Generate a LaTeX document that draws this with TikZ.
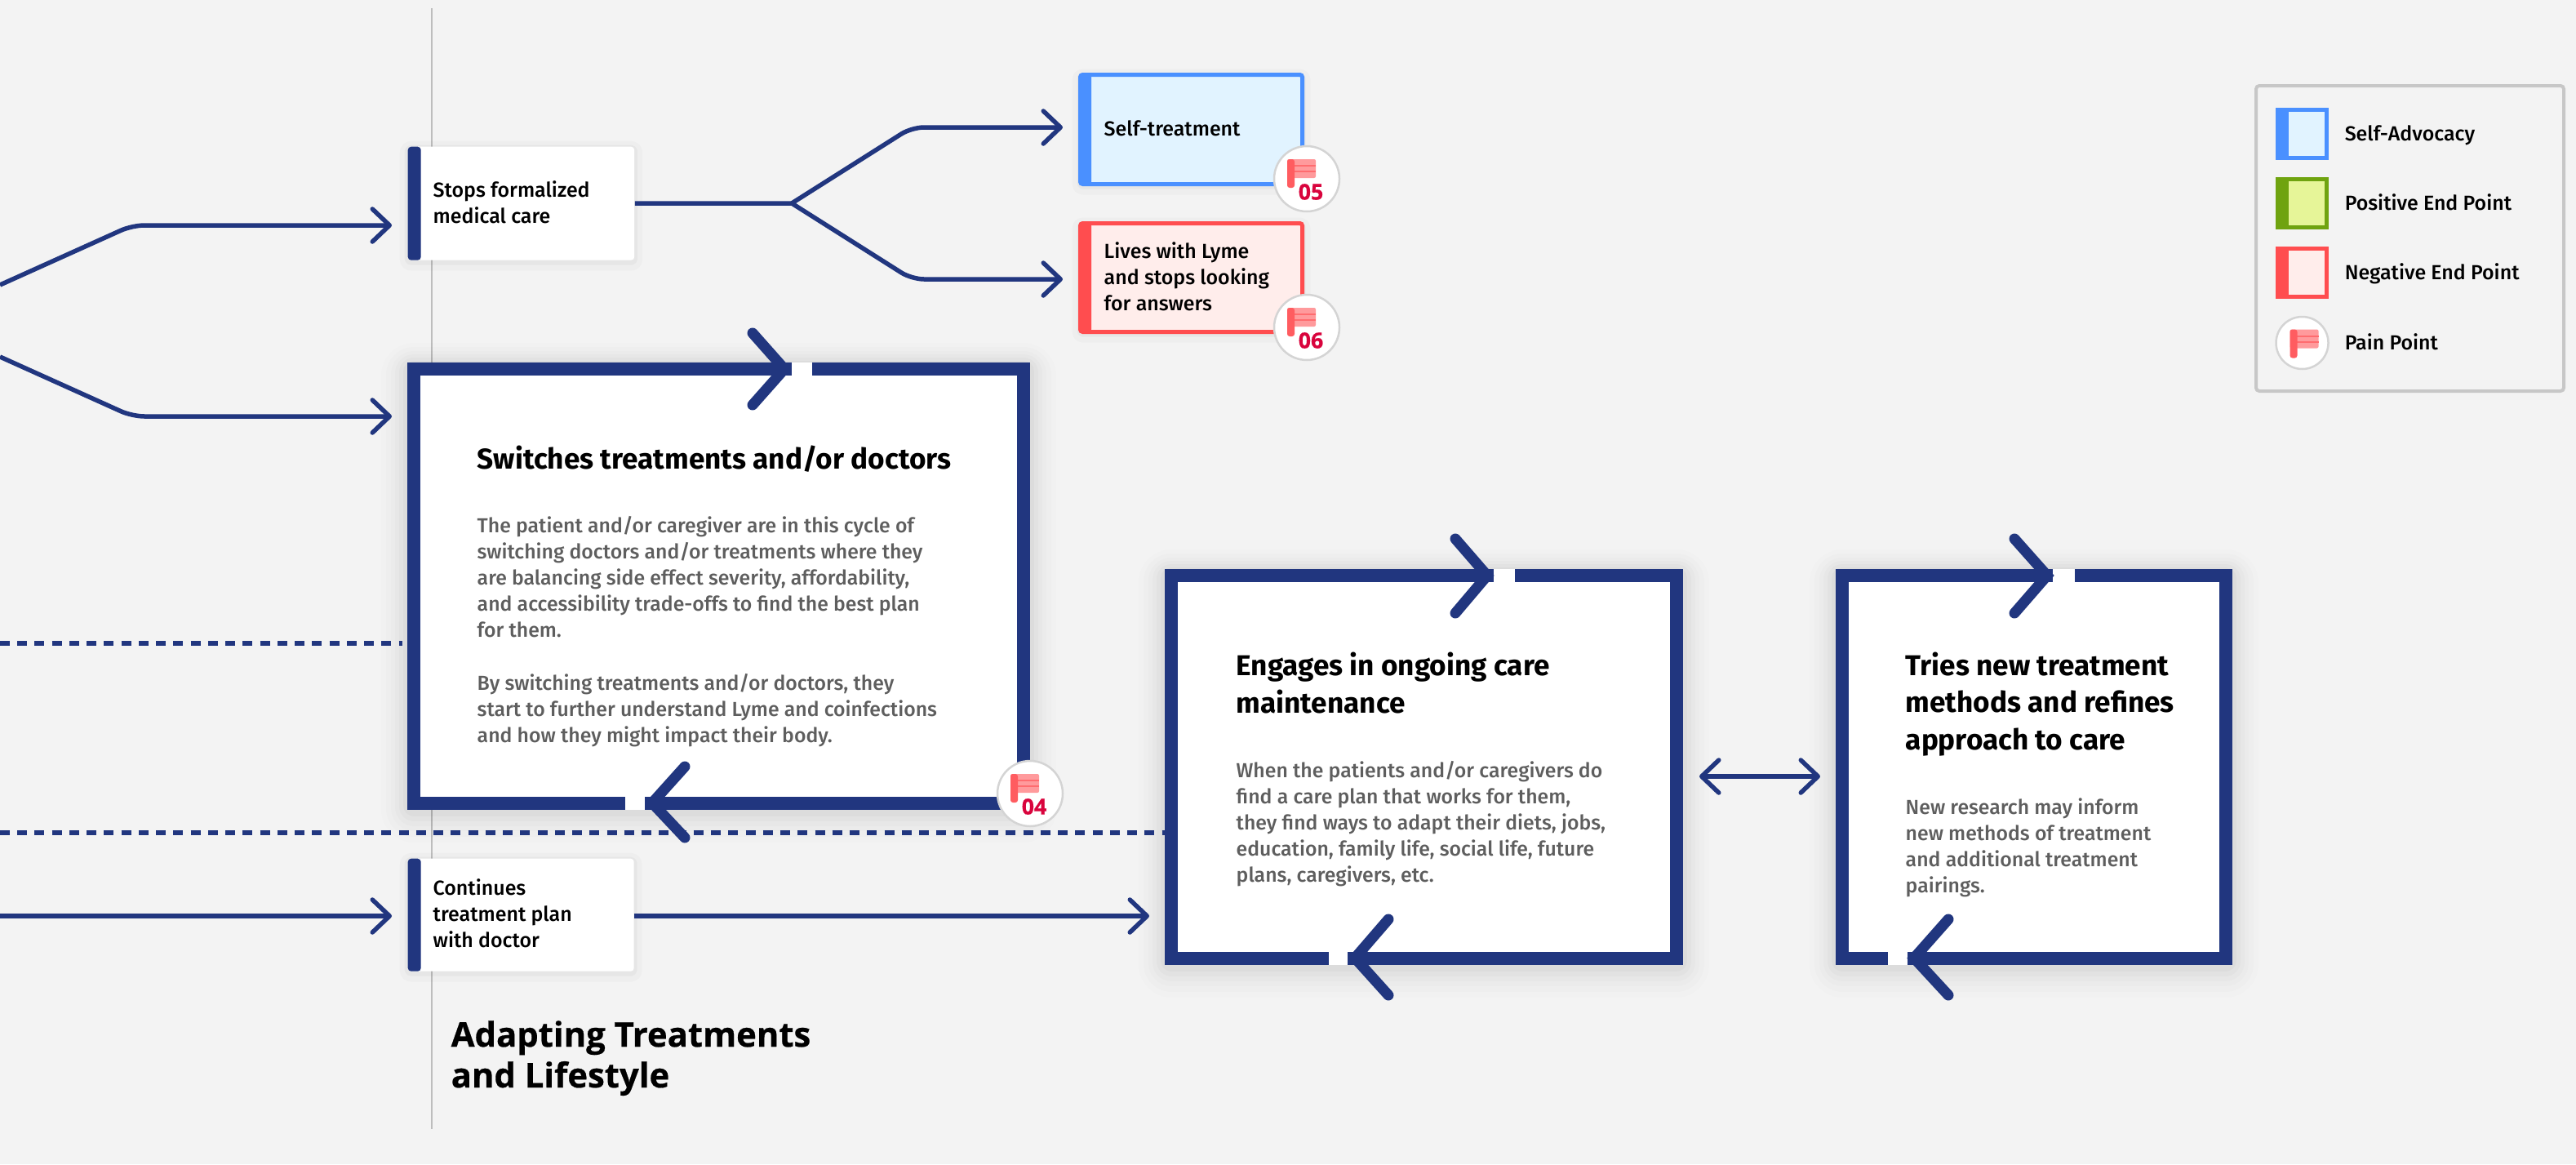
\documentclass[tikz,border=0pt]{standalone}
\usepackage{fontspec}
\setmainfont{Fira Sans}
\newfontfamily\labelfont{Fira Sans Medium}
\newfontfamily\titlefont[BoldFeatures={FakeBold=0.5}]{Open Sans}
\usetikzlibrary{arrows.meta,calc}

\definecolor{paper}{HTML}{F3F3F3}
\definecolor{navy}{HTML}{21367F}
\definecolor{spine}{HTML}{BDBDBD}
\definecolor{bodygrey}{HTML}{5E5E5E}
\definecolor{selfblue}{HTML}{4A90FF}
\definecolor{selflight}{HTML}{E1F3FF}
\definecolor{posgreen}{HTML}{6FA30F}
\definecolor{poslight}{HTML}{E6F598}
\definecolor{negred}{HTML}{FF4D4F}
\definecolor{neglight}{HTML}{FFEDEB}
\definecolor{flagdark}{HTML}{FF5C60}
\definecolor{flaglight}{HTML}{FF9A9C}
\definecolor{painred}{HTML}{D9043D}

\tikzset{
  softshadow/.style={
    preaction={draw=black,draw opacity=.007,line width=#1+.64cm,line join=round,transform canvas={yshift=-.08cm}},
    preaction={draw=black,draw opacity=.010,line width=#1+.52cm,line join=round,transform canvas={yshift=-.07cm}},
    preaction={draw=black,draw opacity=.012,line width=#1+.40cm,line join=round,transform canvas={yshift=-.06cm}},
    preaction={draw=black,draw opacity=.015,line width=#1+.30cm,line join=round,transform canvas={yshift=-.05cm}},
    preaction={draw=black,draw opacity=.018,line width=#1+.20cm,line join=round,transform canvas={yshift=-.04cm}},
    preaction={draw=black,draw opacity=.022,line width=#1+.10cm,line join=round,transform canvas={yshift=-.03cm}}},
  smallshadow/.style={
    preaction={draw=black,draw opacity=.018,line width=.20cm,line join=round,transform canvas={yshift=-.03cm}},
    preaction={draw=black,draw opacity=.030,line width=.08cm,line join=round,transform canvas={yshift=-.02cm}}},
  leftbar/.style 2 args={path picture={\fill[#1] (path picture bounding box.north west) rectangle
    ([xshift=#2]path picture bounding box.south west);}},
  stepbox/.style={anchor=north west, fill=white, rounded corners=.04cm, smallshadow, leftbar={navy}{.16cm}},
  endbox/.style 2 args={anchor=north west, draw=#1, fill=#2, line width=.05cm, rounded corners=.03cm,
    smallshadow, leftbar={#1}{.135cm}},
  swatch/.style 2 args={anchor=north west, draw=#1, fill=#2, line width=.05cm,
    minimum width=.60cm, minimum height=.59cm, leftbar={#1}{.135cm}},
  cardbox/.style={anchor=north west, draw=navy, fill=white, line width=.16cm, softshadow=.16cm},
  cardtitle/.style={anchor=base west, inner sep=0pt, align=left, font=\fontsize{10pt}{12.85pt}\bfseries\selectfont},
  cardtext/.style={anchor=base west, inner sep=0pt, align=left, text=bodygrey, font=\labelfont\fontsize{7.06pt}{9.1pt}\selectfont},
  boxtext/.style={anchor=base west, inner sep=0pt, align=left, text=black, font=\labelfont\fontsize{7.1pt}{9.1pt}\selectfont},
  bigtitle/.style={anchor=base west, inner sep=0pt, align=left, font=\titlefont\bfseries\fontsize{11.9pt}{14.2pt}\selectfont},
  flowarrow/.style={draw=navy, line width=.055cm, rounded corners=.15cm, shorten >=.19cm,
    -{Straight Barb[length=.21cm,width=.4cm,round]}},
  dashline/.style={draw=navy, line width=.06cm, dash pattern=on .12cm off .0925cm},
  cyclebarb/.style={draw=navy, line width=.13cm, line cap=round, line join=miter},
  painbadge/.style={circle, draw=black!17, fill=white, line width=.025cm, inner sep=0pt},
  painnum/.style={inner sep=0pt, text=painred, font=\titlefont\bfseries\fontsize{7.6pt}{8pt}\selectfont},
  painflag/.pic={
    \fill[flaglight, rounded corners=.02cm] (-.175,.175) rectangle (.175,-.055);
    \fill[flagdark!75!flaglight] (-.09,.105) rectangle (.175,.085);
    \fill[flagdark!75!flaglight] (-.09,.035) rectangle (.175,.015);
    \fill[flagdark, rounded corners=.03cm] (-.175,.175) rectangle (-.085,-.175);
  }
}

\begin{document}
\begin{tikzpicture}
  \useasboundingbox (0,0) rectangle (31.56,-14.26);
  \fill[paper] (0,0) rectangle (31.56,-14.26);

  % Spine
  \coordinate (spinetop) at (5.29,-.10);
  \coordinate (spinebot) at (5.29,-13.83);
  \draw[spine, line width=.025cm] (spinetop) -- (spinebot);

  % Steps
  \node (stops) at (4.99,-1.79) [stepbox, minimum width=2.775cm, minimum height=1.39cm] {};
  \node (contin) at (4.99,-10.51) [stepbox, minimum width=2.77cm, minimum height=1.38cm] {};
  \node (selftr) at (13.21,-.89) [endbox={selfblue}{selflight}, minimum width=2.72cm, minimum height=1.34cm] {};
  \node (lives) at (13.21,-2.71) [endbox={negred}{neglight}, minimum width=2.72cm, minimum height=1.33cm] {};

  % Cards
  \node (switch) at (4.99,-4.44) [cardbox, minimum width=7.47cm, minimum height=5.315cm] {};
  \node (engage) at (14.27,-6.97) [cardbox, minimum width=6.19cm, minimum height=4.685cm] {};
  \node (tries) at (22.49,-6.97) [cardbox, minimum width=4.695cm, minimum height=4.685cm] {};

  % Gaps in the card borders
  \fill[white] (9.70,-4.44) rectangle (9.95,-4.60);
  \fill[white] (7.66,-9.755) rectangle (7.90,-9.915);
  \fill[white] (18.30,-6.97) rectangle (18.56,-7.13);
  \fill[white] (16.28,-11.655) rectangle (16.51,-11.815);
  \fill[white] (25.15,-6.97) rectangle (25.42,-7.13);
  \fill[white] (23.13,-11.655) rectangle (23.37,-11.815);

  % Cycle arrows
  \draw[cyclebarb] (9.22,-4.08) -- (9.61,-4.52) -- (9.22,-4.96);
  \draw[cyclebarb] (8.39,-9.39) -- (7.99,-9.835) -- (8.39,-10.26);
  \draw[cyclebarb] (17.83,-6.60) -- (18.22,-7.05) -- (17.83,-7.51);
  \draw[cyclebarb] (17.01,-11.26) -- (16.60,-11.735) -- (17.01,-12.19);
  \draw[cyclebarb] (24.68,-6.60) -- (25.08,-7.05) -- (24.68,-7.51);
  \draw[cyclebarb] (23.87,-11.26) -- (23.45,-11.735) -- (23.87,-12.19);

  % Texts of the boxes
  \node (stopstxt) at (5.30,-2.73) [boxtext] {Stops formalized\\medical care};
  \node (conttxt) at (5.30,-11.60) [boxtext] {Continues\\treatment plan\\with doctor};
  \node (selftxt) at (13.52,-1.66) [boxtext] {Self-treatment};
  \node (livestxt) at (13.52,-3.80) [boxtext] {Lives with Lyme\\and stops looking\\for answers};

  % Texts of the cards
  \node (switchhead) at (5.84,-5.74) [cardtitle] {Switches treatments and/or doctors};
  \node (switchbody) at (5.84,-9.09) [cardtext] {The patient and/or caregiver are in this cycle of\\switching doctors and/or treatments where they\\are balancing side effect severity, affordability,\\and accessibility trade-offs to find the best plan\\for them.\\[.33cm]By switching treatments and/or doctors, they\\start to further understand Lyme and coinfections\\and how they might impact their body.};
  \node (engagehead) at (15.14,-8.73) [cardtitle] {Engages in ongoing care\\maintenance};
  \node (engagebody) at (15.14,-10.80) [cardtext] {When the patients and/or caregivers do\\find a care plan that works for them,\\they find ways to adapt their diets, jobs,\\education, family life, social life, future\\plans, caregivers, etc.};
  \node (trieshead) at (23.34,-9.18) [cardtitle] {Tries new treatment\\methods and refines\\approach to care};
  \node (triesbody) at (23.34,-10.93) [cardtext] {New research may inform\\new methods of treatment\\and additional treatment\\pairings.};
  \node (phase) at (5.52,-13.32) [bigtitle] {Adapting Treatments\\and Lifestyle};

  % Connectors
  \coordinate (upstart) at (0,-3.49);
  \coordinate (upbend) at (1.62,-2.76);
  \coordinate (downstart) at (0,-4.37);
  \coordinate (downbend) at (1.62,-5.10);
  \coordinate (fork) at (9.70,-2.49);
  \coordinate (selfbend) at (11.17,-1.56);
  \coordinate (livesbend) at (11.17,-3.42);
  \coordinate (contstart) at (0,-11.22);
  \coordinate (pairrow) at (21.5,-9.51);
  \coordinate (dashup) at (0,-7.88);
  \coordinate (dashlow) at (0,-10.20);
  \draw[flowarrow] (upstart) -- (upbend) -- (stops.west |- upbend);
  \draw[flowarrow] (downstart) -- (downbend) -- (switch.west |- downbend);
  \draw[navy, line width=.055cm] (stops.east) -- (fork);
  \draw[flowarrow] (fork) -- (selfbend) -- (selftr.west |- selfbend);
  \draw[flowarrow] (fork) -- (livesbend) -- (lives.west |- livesbend);
  \draw[flowarrow] (contstart) -- (contin.west |- contstart);
  \draw[flowarrow] (contin.east |- contstart) -- (engage.west |- contstart);
  \draw[flowarrow, shorten <=.2cm, {Straight Barb[length=.21cm,width=.4cm,round]}-{Straight Barb[length=.21cm,width=.4cm,round]}] (engage.east |- pairrow) -- (tries.west |- pairrow);
  \draw[dashline] (dashup) -- ([xshift=-.06cm]switch.west |- dashup);
  \draw[dashline] (dashlow) -- (engage.west |- dashlow);

  % Pain points
  \node (pain04) at (12.62,-9.72) [painbadge, minimum size=.80cm] {};
  \pic at ([shift={(-.065,.065)}]pain04.center) {painflag};
  \node (num04) at ([shift={(.05,-.16)}]pain04.center) [painnum] {04};
  \node (pain05) at (16.01,-2.19) [painbadge, minimum size=.80cm] {};
  \pic at ([shift={(-.065,.065)}]pain05.center) {painflag};
  \node (num05) at ([shift={(.05,-.16)}]pain05.center) [painnum] {05};
  \node (pain06) at (16.01,-4.01) [painbadge, minimum size=.80cm] {};
  \pic at ([shift={(-.065,.065)}]pain06.center) {painflag};
  \node (num06) at ([shift={(.05,-.16)}]pain06.center) [painnum] {06};

  % Legend
  \node (legend) at (27.62,-1.03) [anchor=north west, draw=black!22, line width=.04cm, rounded corners=.04cm, minimum width=3.77cm, minimum height=3.74cm] {};
  \node (keyself) at (27.88,-1.32) [swatch={selfblue}{selflight}] {};
  \node (keypos) at (27.88,-2.17) [swatch={posgreen}{poslight}] {};
  \node (keyneg) at (27.88,-3.02) [swatch={negred}{neglight}] {};
  \node (keypain) at (28.205,-4.20) [painbadge, minimum size=.64cm] {};
  \pic at ([shift={(.025,-.01)}]keypain.center) {painflag};
  \node (txtself) at (28.72,-1.72) [boxtext] {Self-Advocacy};
  \node (txtpos) at (28.72,-2.57) [boxtext] {Positive End Point};
  \node (txtneg) at (28.72,-3.42) [boxtext] {Negative End Point};
  \node (txtpain) at (28.72,-4.28) [boxtext] {Pain Point};
\end{tikzpicture}
\end{document}
